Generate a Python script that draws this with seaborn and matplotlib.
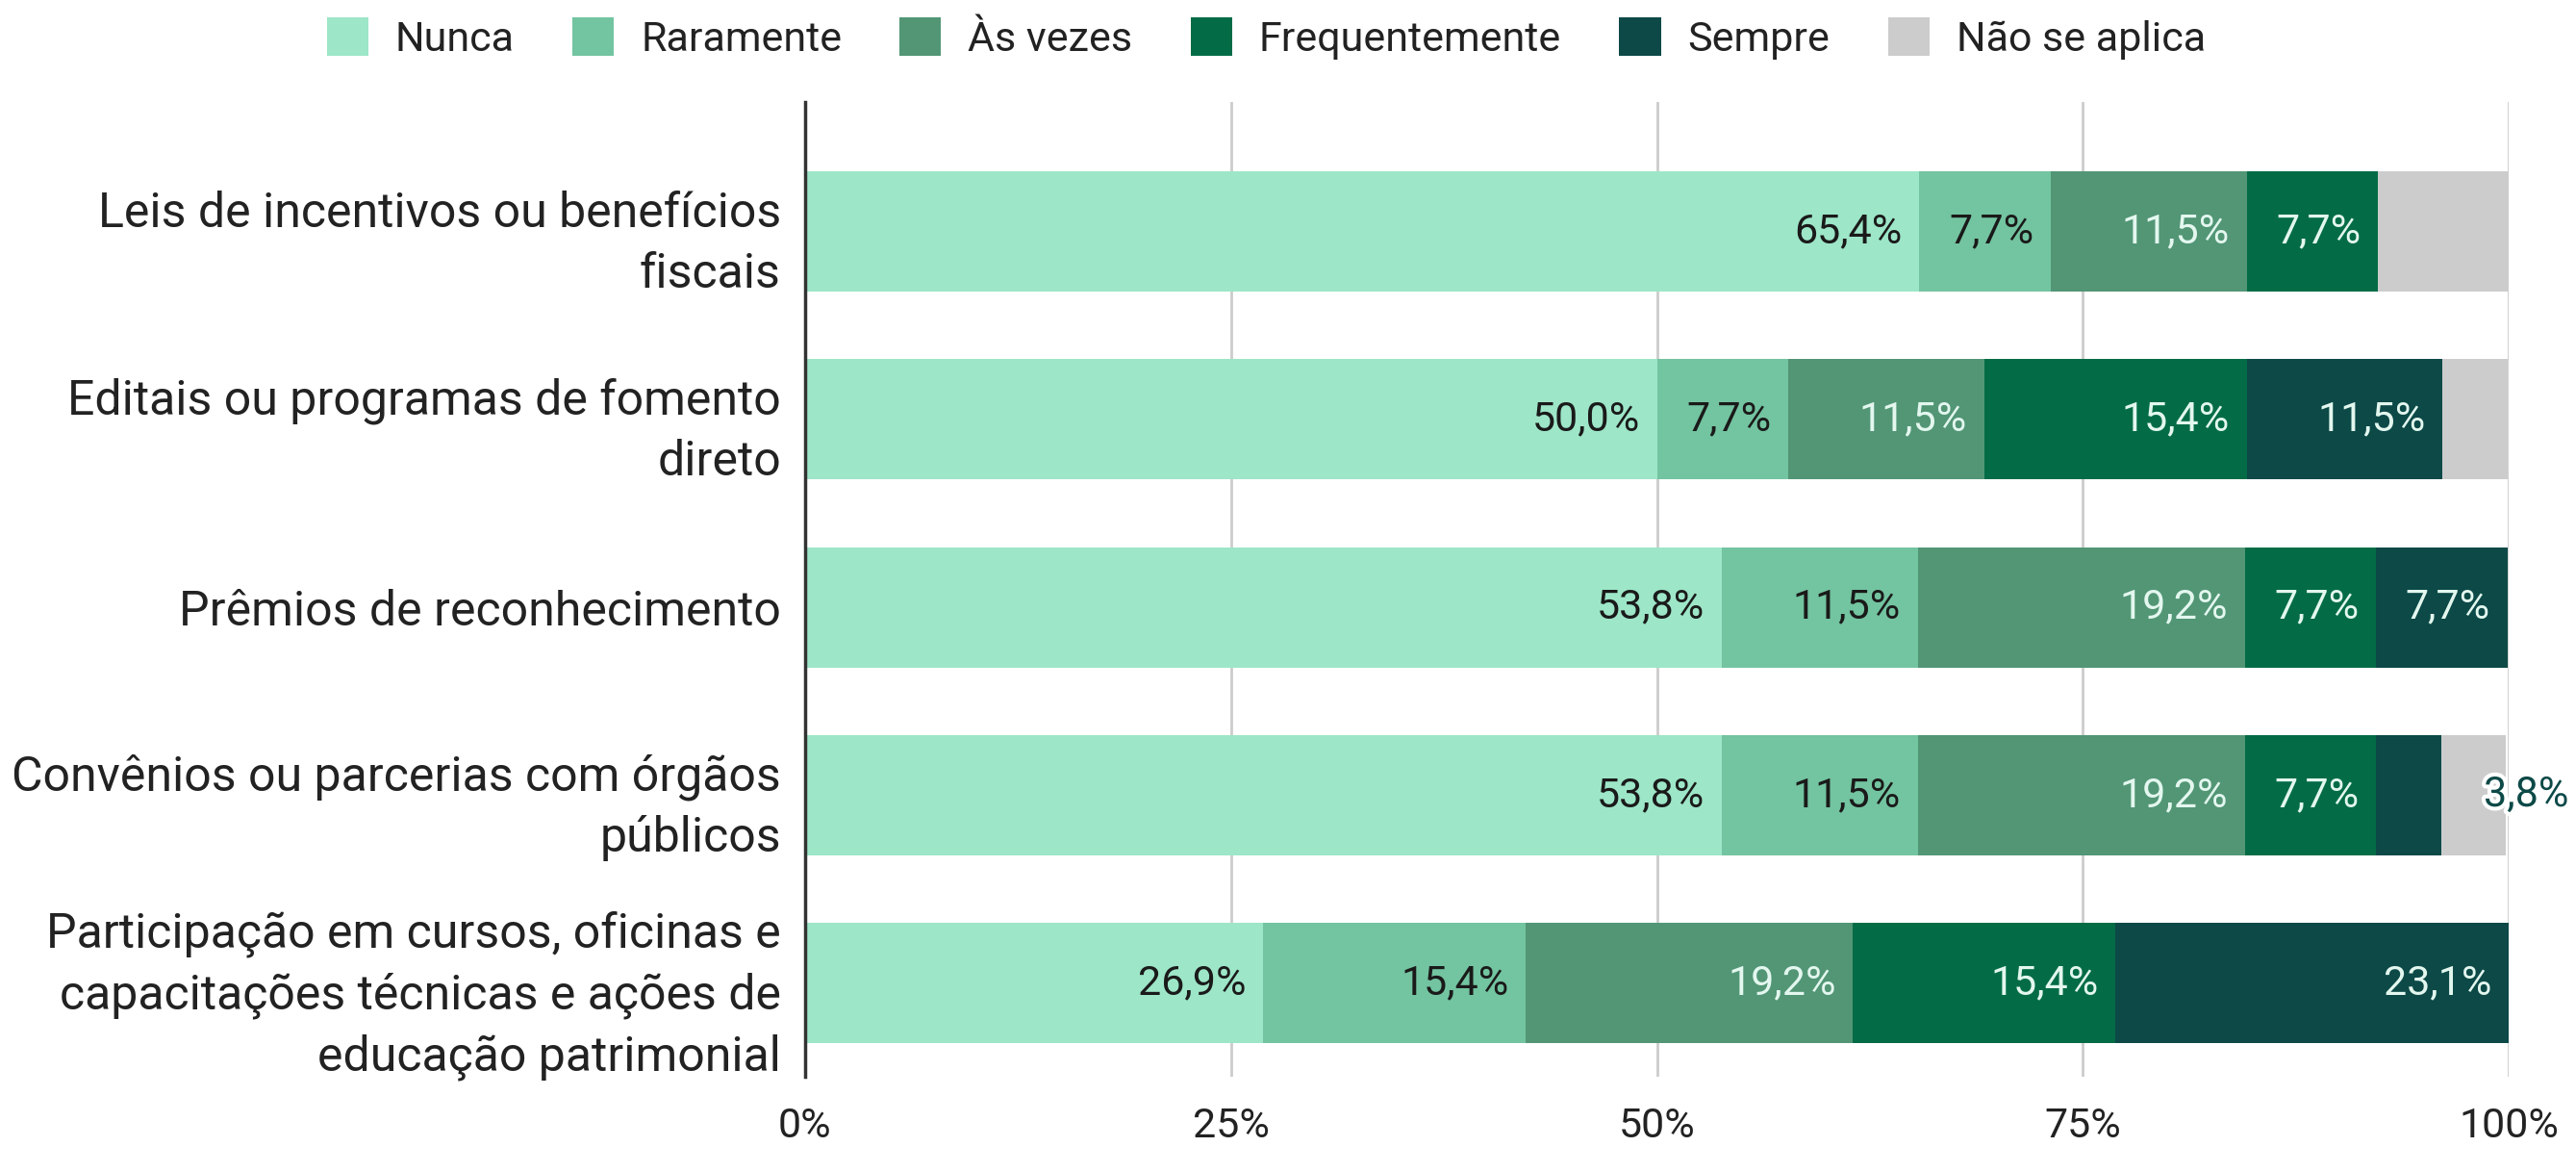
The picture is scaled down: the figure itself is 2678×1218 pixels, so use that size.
import matplotlib
matplotlib.use("Agg")
import matplotlib.pyplot as plt
import matplotlib.patheffects as pe
from matplotlib.patches import Patch
import seaborn as sns
import numpy as np

categories = [
    "Leis de incentivos ou benefícios\nfiscais",
    "Editais ou programas de fomento\ndireto",
    "Prêmios de reconhecimento",
    "Convênios ou parcerias com órgãos\npúblicos",
    "Participação em cursos, oficinas e\ncapacitações técnicas e ações de\neducação patrimonial",
]
series = ["Nunca", "Raramente", "Às vezes", "Frequentemente", "Sempre", "Não se aplica"]
nunca = [65.4, 50.0, 53.8, 53.8, 26.9]
raramente = [7.7, 7.7, 11.5, 11.5, 15.4]
as_vezes = [11.5, 11.5, 19.2, 19.2, 19.2]
frequentemente = [7.7, 15.4, 7.7, 7.7, 15.4]
sempre = [0, 11.5, 7.7, 3.8, 23.1]
nao_se_aplica = [7.7, 3.8, 0, 3.8, 0]
values = [nunca, raramente, as_vezes, frequentemente, sempre, nao_se_aplica]

colors = ["#9de6c8", "#73c4a0", "#529675", "#036c46", "#0c4947", "#cccccc"]
text_colors = ["#1a1a1a", "#1a1a1a", "#e3f7ef", "#e3f7ef", "#e3f7ef", None]

sns.set_style("white")
plt.rcParams["font.family"] = ["Roboto", "DejaVu Sans"]

fig = plt.figure(figsize=(26.78, 12.18), dpi=100)
ax = fig.add_axes([0.3125, 0.081, 0.974 - 0.3125, 0.832])

data = np.array(values)
cum = np.cumsum(data, axis=0)

# stacked bars: draw the running totals from the largest down
for i in reversed(range(len(series))):
    sns.barplot(x=cum[i], y=categories, order=categories, orient="h", color=colors[i],
                saturation=1, width=0.64, linewidth=0, ax=ax)

# value labels
for i in range(len(series)):
    if text_colors[i] is None:
        continue
    for j in range(len(categories)):
        v = data[i, j]
        if v <= 0:
            continue
        lab = f"{v:.1f}%".replace(".", ",")
        if v < 5:
            t = ax.text(101.0, j, lab, ha="center", va="center", fontsize=31,
                        color=colors[i], zorder=5, clip_on=False)
            t.set_path_effects([pe.withStroke(linewidth=6, foreground="white")])
        else:
            ax.text(cum[i, j] - 1.0, j, lab, ha="right", va="center", fontsize=31,
                    color=text_colors[i], zorder=5)

ax.set_xlim(0, 100)
ax.set_ylim(4.5, -0.69)
ax.set_xticks([0, 25, 50, 75, 100])
ax.set_xticklabels(["0%", "25%", "50%", "75%", "100%"], fontsize=31, color="#222222")
ax.tick_params(axis="x", length=0, pad=22)
ax.tick_params(axis="y", length=0, pad=18, labelsize=36, labelcolor="#222222")
ax.set_xlabel("")
ax.set_ylabel("")
ax.grid(axis="x", color="#cccccc", linewidth=2)
ax.set_axisbelow(True)
for s in ["top", "right", "bottom"]:
    ax.spines[s].set_visible(False)
ax.spines["left"].set_color("#333333")
ax.spines["left"].set_linewidth(2.5)
for lbl in ax.get_yticklabels():
    lbl.set_horizontalalignment("right")
    lbl.set_multialignment("right")
    lbl.set_linespacing(1.4)

handles = [Patch(facecolor=c, edgecolor="none", label=s) for c, s in zip(colors, series)]
fig.legend(handles=handles, loc="upper center", bbox_to_anchor=(0.4915, 1.01), ncol=6,
           frameon=False, fontsize=31, handlelength=1.0, handleheight=1.05,
           handletextpad=0.65, columnspacing=1.4, labelcolor="#222222", borderaxespad=0.3)

fig.savefig("out.png", dpi=100, facecolor="white")
